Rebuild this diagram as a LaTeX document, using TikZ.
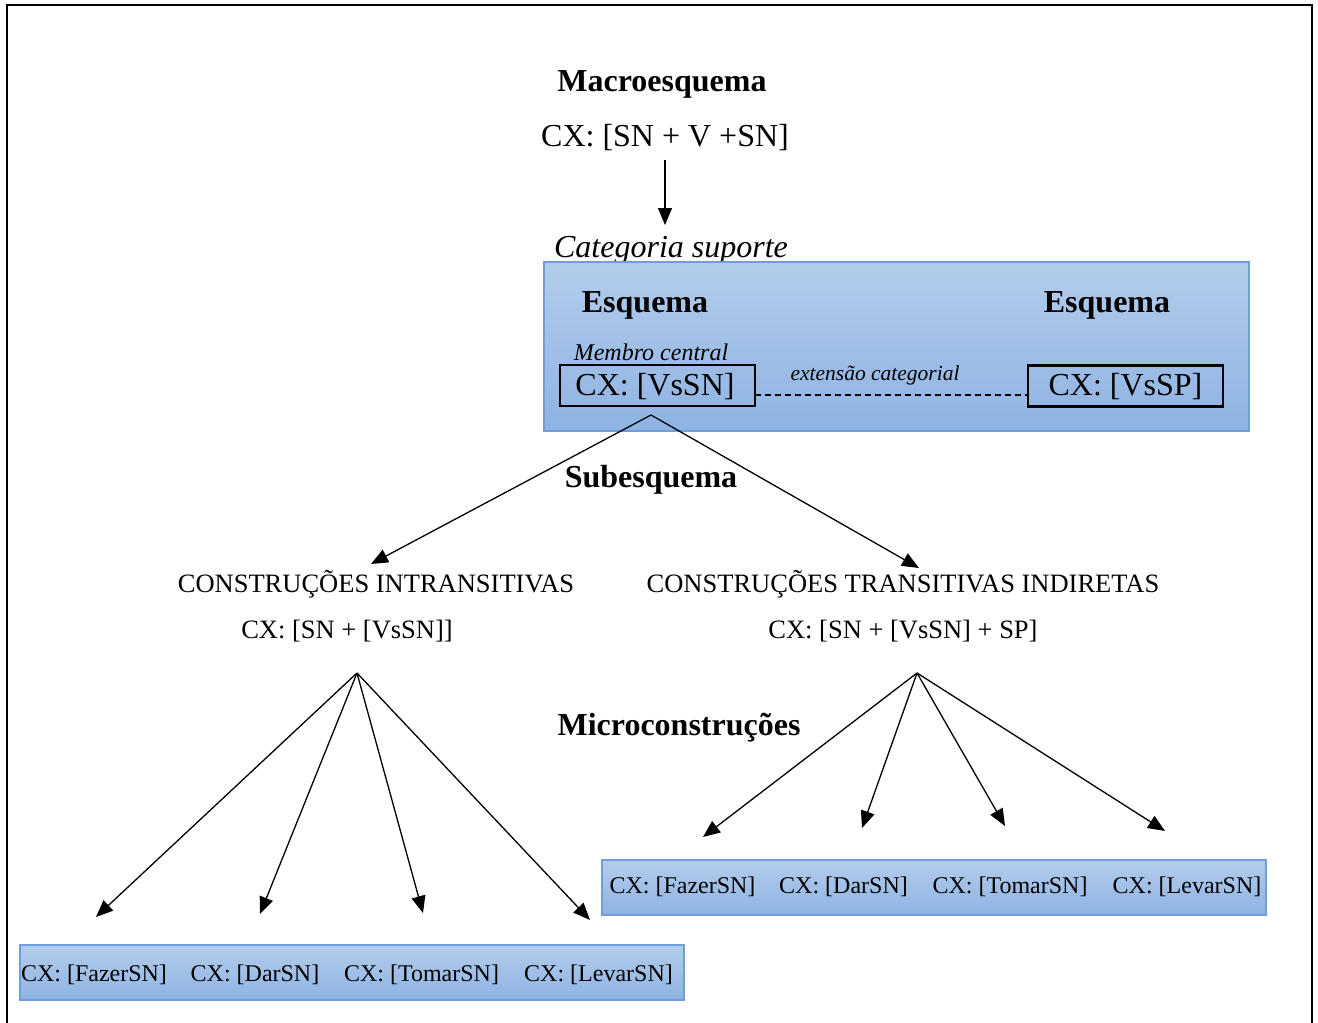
\documentclass[tikz,border=0pt]{standalone}
\usepackage{fontspec}
\setmainfont{Liberation Serif}
\usetikzlibrary{arrows.meta}
\definecolor{boxtop}{HTML}{B3CCEB}
\definecolor{boxbot}{HTML}{8EB3E2}
\definecolor{boxline}{HTML}{6E9FD9}
\tikzset{
  every node/.style={inner sep=0pt, outer sep=0pt},
  big/.style={font=\fontsize{32}{36}\selectfont, anchor=base},
  bigb/.style={font=\fontsize{32}{36}\selectfont\bfseries, anchor=base},
  bigi/.style={font=\fontsize{32}{36}\selectfont\itshape, anchor=base},
  mid/.style={font=\fontsize{26.5}{30}\selectfont, anchor=base},
  small/.style={font=\fontsize{24}{28}\selectfont, anchor=base},
  smalli/.style={font=\fontsize{24}{28}\selectfont\itshape, anchor=base},
  tinyi/.style={font=\fontsize{21.5}{25}\selectfont\itshape, anchor=base},
  bluebox/.style={draw=boxline, line width=1.3pt, top color=boxtop, bottom color=boxbot},
  cxbox/.style={draw=black, line width=2.6pt, minimum height=41pt},
  conn/.style={line width=1.3pt, -{Triangle[length=17pt,width=14pt]}},
}
\begin{document}
\begin{tikzpicture}[x=1pt,y=-1pt]
\useasboundingbox (0,0) rectangle (1318,1023);
\fill[white] (0,0) rectangle (1318,1023);
% outer frame
\draw[line width=2pt] (7,1023) -- (7,5) -- (1312,5) -- (1312,1023);

% top level
\node[bigb] (macro) at (662,91) {Macroesquema};
\node[big] (macrocx) at (665,146) {CX: [SN + V +SN]};
\coordinate (macrotip) at (665,225);
\draw[conn] (665,160) -- (macrotip);

% support category
\node[bigi] (cat) at (671,257) {Categoria suporte};
\shade[bluebox] (544,262) rectangle (1249,431);
\node[bigb] (esqL) at (645,312) {Esquema};
\node[bigb] (esqR) at (1107,312) {Esquema};
\node[smalli] (membro) at (651,360) {Membro central};
\node[cxbox, minimum width=195pt, anchor=center] (vssn) at (657.5,385.5) {};
\node[big] at (655,395) {CX: [VsSN]};
\node[cxbox, minimum width=195pt, anchor=center] (vssp) at (1125.5,386) {};
\node[big] at (1125.5,395) {CX: [VsSP]};
\draw[line width=1.3pt, dash pattern=on 6pt off 4pt] (vssn.east |- 0,395) -- (vssp.west |- 0,395);
\node[tinyi] (ext) at (875,380) {extensão categorial};

% subschemas
\node[bigb] (sub) at (651,487) {Subesquema};
\coordinate (apex) at (651,415);
\coordinate (tipL) at (371,564);
\coordinate (tipR) at (919,568);
\draw[conn] (apex) -- (tipL);
\draw[conn] (apex) -- (tipR);

\node[mid] (intr) at (376,592) {CONSTRUÇÕES INTRANSITIVAS};
\node[mid] (intrcx) at (347,638) {CX: [SN + [VsSN]]};
\node[mid] (trans) at (903,592) {CONSTRUÇÕES TRANSITIVAS INDIRETAS};
\node[mid] (transcx) at (903,638) {CX: [SN + [VsSN] + SP]};

\node[bigb] (micro) at (679,735) {Microconstruções};

% left fan
\coordinate (fanL) at (357,673);
\coordinate (l1) at (96,917);
\coordinate (l2) at (260,914);
\coordinate (l3) at (423,913);
\coordinate (l4) at (590,920);
\foreach \t in {l1,l2,l3,l4} \draw[conn] (fanL) -- (\t);

% right fan
\coordinate (fanR) at (917,673);
\coordinate (r1) at (703,837);
\coordinate (r2) at (862,828);
\coordinate (r3) at (1005,826);
\coordinate (r4) at (1165,831);
\foreach \t in {r1,r2,r3,r4} \draw[conn] (fanR) -- (\t);

% micro-construction boxes
\shade[bluebox] (602,860) rectangle (1266,915);
\node[small] (rf) at (682.5,893) {CX: [FazerSN]};
\node[small] (rd) at (843.5,893) {CX: [DarSN]};
\node[small] (rt) at (1010,893) {CX: [TomarSN]};
\node[small] (rl) at (1187,893) {CX: [LevarSN]};

\shade[bluebox] (20,945) rectangle (684,1000);
\node[small] (lf) at (94,981) {CX: [FazerSN]};
\node[small] (ld) at (255,981) {CX: [DarSN]};
\node[small] (lt) at (421.5,981) {CX: [TomarSN]};
\node[small] (ll) at (598.5,981) {CX: [LevarSN]};
\end{tikzpicture}
\end{document}
